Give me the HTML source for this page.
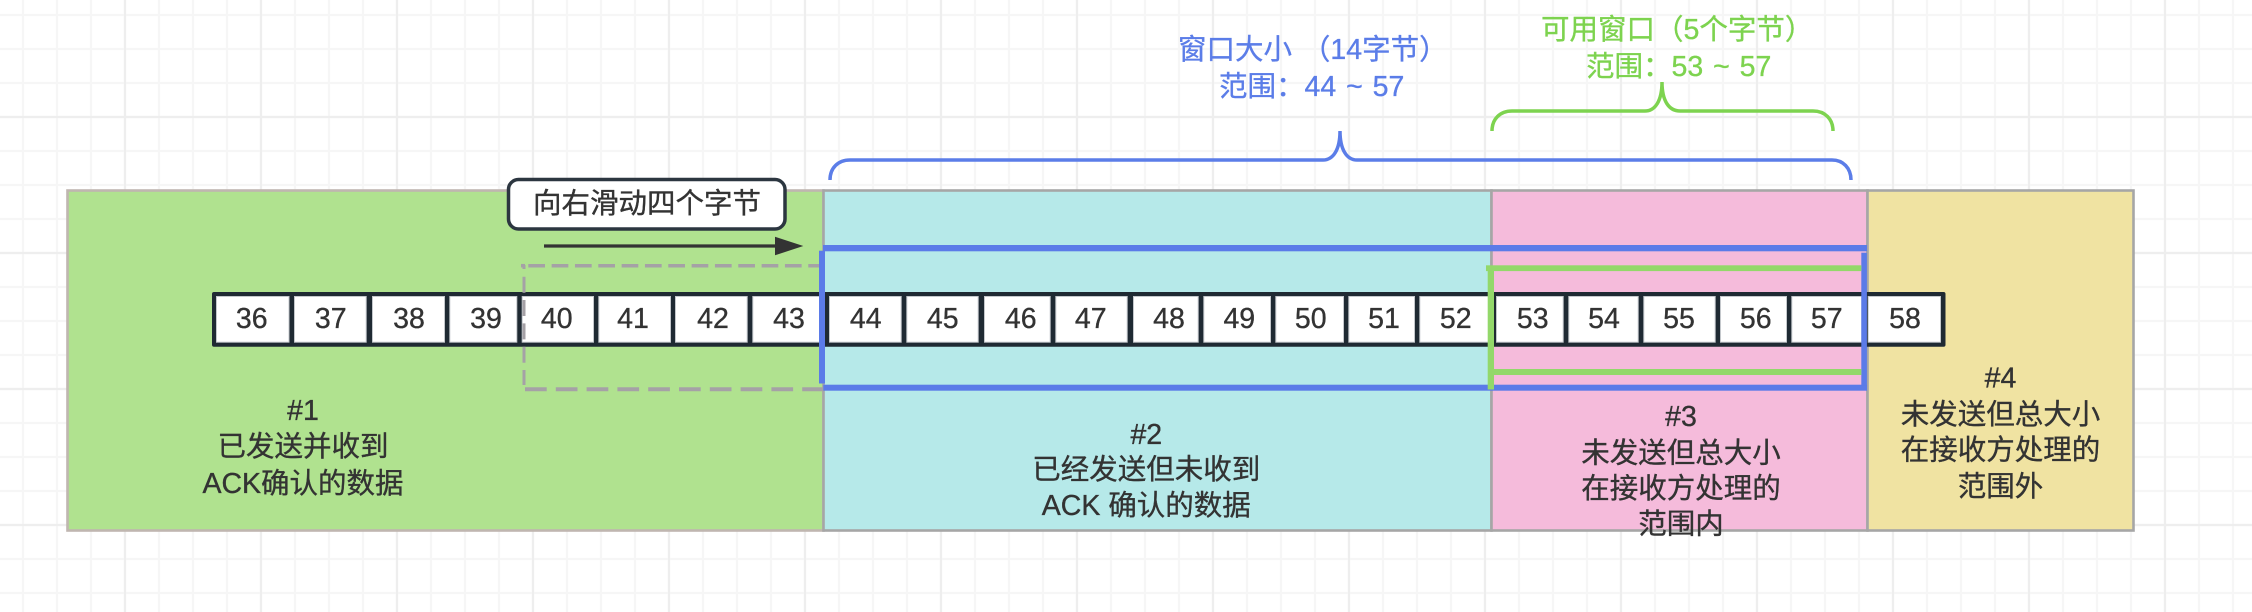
<!DOCTYPE html>
<html>
<head>
<meta charset="utf-8">
<style>
html,body{margin:0;padding:0;background:#fff;width:2252px;height:612px;overflow:hidden}
svg{display:block}
text{font-family:"Liberation Sans","Noto Sans CJK SC",sans-serif;font-size:28.5px;fill:#333;stroke:#333;stroke-width:.35px}
.n{text-anchor:middle}
text.b{fill:#5b7de8;stroke:#5b7de8;word-spacing:2px}
text.g{fill:#7dd34f;stroke:#7dd34f;word-spacing:2px}
</style>
</head>
<body>
<svg width="2252" height="612" viewBox="0 0 2252 612" xmlns="http://www.w3.org/2000/svg">
<defs>
<pattern id="mi" x="7" y="-1" width="34" height="34" patternUnits="userSpaceOnUse"><path d="M16 0V34M0 16H34" stroke="#f6f6f6" stroke-width="2.2" fill="none"/></pattern>
<pattern id="ma" x="41" y="33" width="136" height="136" patternUnits="userSpaceOnUse"><path d="M84 0V136M0 84H136" stroke="#eeeeee" stroke-width="2.2" fill="none"/></pattern>
</defs>
<rect width="2252" height="612" fill="#fff"/>
<rect width="2252" height="612" fill="url(#mi)"/>
<rect width="2252" height="612" fill="url(#ma)"/>

<!-- zones -->
<rect x="67.5" y="190.5" width="756" height="340" fill="#b0e28f" stroke="#c0b6b0" stroke-width="2.600"/>
<rect x="823.5" y="190.5" width="668" height="340" fill="#b6e9e9" stroke="#a6a6a6" stroke-width="2.600"/>
<rect x="1491.5" y="190.5" width="376" height="340" fill="#f5bbdb" stroke="#a6a6a6" stroke-width="2.600"/>
<rect x="1867.5" y="190.5" width="266" height="340" fill="#f0e3a2" stroke="#a6a6a6" stroke-width="2.600"/>

<!-- cells -->
<rect x="212" y="292" width="1733.500" height="54.700" rx="2" fill="#1f2a33"/>
<g fill="#fff" stroke="#c4c8cc" stroke-width="1">
<rect x="216.500" y="296.500" width="72.500" height="45.700"/>
<rect x="294.500" y="296.500" width="71.700" height="45.700"/>
<rect x="372.500" y="296.500" width="72" height="45.700"/>
<rect x="449.800" y="296.500" width="67" height="45.700"/>
<rect x="522.200" y="296.500" width="71.300" height="45.700"/>
<rect x="598.800" y="296.500" width="71.700" height="45.700"/>
<rect x="675.500" y="296.500" width="71.700" height="45.700"/>
<rect x="752.800" y="296.500" width="67.700" height="45.700"/>
<rect x="829.500" y="296.500" width="71.700" height="45.700"/>
<rect x="906.800" y="296.500" width="71.400" height="45.700"/>
<rect x="984.500" y="296.500" width="65.700" height="45.700"/>
<rect x="1055.800" y="296.500" width="71.400" height="45.700"/>
<rect x="1133.500" y="296.500" width="64.700" height="45.700"/>
<rect x="1203.800" y="296.500" width="66.700" height="45.700"/>
<rect x="1275.800" y="296.500" width="67.700" height="45.700"/>
<rect x="1348.800" y="296.500" width="65.700" height="45.700"/>
<rect x="1419.800" y="296.500" width="69" height="45.700"/>
<rect x="1496.500" y="296.500" width="66.700" height="45.700"/>
<rect x="1568.800" y="296.500" width="69.400" height="45.700"/>
<rect x="1643.800" y="296.500" width="71.400" height="45.700"/>
<rect x="1720.500" y="296.500" width="66" height="45.700"/>
<rect x="1791.800" y="296.500" width="70" height="45.700"/>
<rect x="1868.200" y="296.500" width="72.300" height="45.700"/>
</g>
<g>
<text class="n" x="251.700" y="328">36</text>
<text class="n" x="330.700" y="328">37</text>
<text class="n" x="409" y="328">38</text>
<text class="n" x="486" y="328">39</text>
<text class="n" x="556.700" y="328">40</text>
<text class="n" x="633" y="328">41</text>
<text class="n" x="713" y="328">42</text>
<text class="n" x="789" y="328">43</text>
<text class="n" x="865.700" y="328">44</text>
<text class="n" x="942.700" y="328">45</text>
<text class="n" x="1020.700" y="328">46</text>
<text class="n" x="1090.700" y="328">47</text>
<text class="n" x="1169" y="328">48</text>
<text class="n" x="1239.300" y="328">49</text>
<text class="n" x="1310.700" y="328">50</text>
<text class="n" x="1384" y="328">51</text>
<text class="n" x="1455.700" y="328">52</text>
<text class="n" x="1532.700" y="328">53</text>
<text class="n" x="1604" y="328">54</text>
<text class="n" x="1679" y="328">55</text>
<text class="n" x="1755.700" y="328">56</text>
<text class="n" x="1826.700" y="328">57</text>
<text class="n" x="1905" y="328">58</text>
</g>

<!-- dashed previous window -->
<g fill="none" stroke="#a5a1a6">
<path d="M521 265.700H525" stroke-width="3.500"/>
<path d="M528.300 265.700H820" stroke-width="3.500" stroke-dasharray="16.700 6.630"/>
<path d="M524 265V276.700" stroke-width="3" stroke-dasharray="4 8"/>
<path d="M524 276.700V385" stroke-width="3" stroke-dasharray="16 7.330"/>
<path d="M525 389.300H823" stroke-width="4" stroke-dasharray="21.700 9.100"/>
</g>

<!-- blue window -->
<g fill="#5b7be8">
<rect x="823" y="245" width="1044" height="6.300"/>
<rect x="819" y="250.700" width="6" height="132.800"/>
<rect x="823.300" y="384.700" width="1043.700" height="6"/>
<rect x="1861.300" y="252.700" width="5.600" height="133"/>
</g>
<!-- green window -->
<g fill="#93d86a">
<rect x="1486" y="265.300" width="375.300" height="5.800"/>
<rect x="1487.700" y="271" width="6.300" height="118.500"/>
<rect x="1494" y="369" width="367.300" height="6"/>
</g>

<!-- braces -->
<path d="M830 180C830 168 838 160 850 160L1323 160C1333 160 1340 150 1340 131C1340 150 1347 160 1357 160L1832 160C1843 160 1851 168 1851 180" fill="none" stroke="#5b7de8" stroke-width="3.500"/>
<path d="M1492 131C1492 119 1500 111 1512 111L1645 111C1655 111 1662 101 1662 82C1662 101 1669 111 1680 111L1813 111C1825 111 1833 119 1833 131" fill="none" stroke="#7dd34f" stroke-width="3.500"/>

<text class="b" x="1178" y="59">窗口大小 （14字节）</text>
<text class="b" x="1219" y="96">范围：44 ~ 57</text>
<text class="g" x="1541" y="39">可用窗口（5个字节）</text>
<text class="g" x="1586" y="76">范围：53 ~ 57</text>

<!-- arrow + label -->
<rect x="508.500" y="179.500" width="276.500" height="49.500" rx="10" fill="#fff" stroke="#2c3640" stroke-width="3.500"/>
<text x="533" y="213">向右滑动四个字节</text>
<path d="M544 246H776" stroke="#333" stroke-width="3.300" fill="none"/>
<path d="M775 236.700L803.300 246L775 255.300Z" fill="#333"/>

<!-- zone captions -->
<g>
<text class="n" x="303" y="420">#1</text>
<text class="n" x="303" y="456">已发送并收到</text>
<text class="n" x="303" y="493">ACK确认的数据</text>
<text class="n" x="1146.300" y="444">#2</text>
<text class="n" x="1146.300" y="479">已经发送但未收到</text>
<text class="n" x="1146.300" y="515">ACK 确认的数据</text>
<text class="n" x="1681" y="426">#3</text>
<text class="n" x="1681" y="462.500">未发送但总大小</text>
<text class="n" x="1681" y="498">在接收方处理的</text>
<text class="n" x="1681" y="533.500">范围内</text>
<text class="n" x="2000.500" y="387.500">#4</text>
<text class="n" x="2000.500" y="424">未发送但总大小</text>
<text class="n" x="2000.500" y="459.500">在接收方处理的</text>
<text class="n" x="2000.500" y="496">范围外</text>
</g>
</svg>
</body>
</html>
